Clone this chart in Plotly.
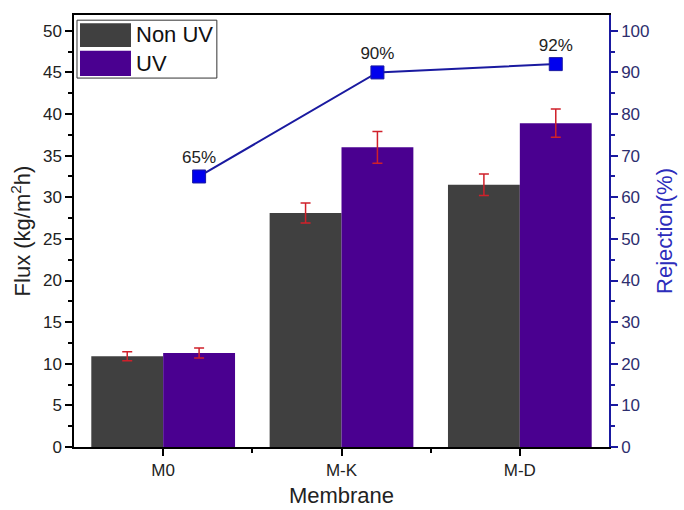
import plotly.graph_objects as go

# Membrane flux (bars) and rejection (line) data
membranes = ["M0", "M-K", "M-D"]
flux_non_uv = [10.9, 28.1, 31.5]
flux_non_uv_err = [0.55, 1.2, 1.3]
flux_uv = [11.3, 36.0, 38.9]
flux_uv_err = [0.6, 1.9, 1.7]
rejection = [65, 90, 92]
rejection_labels = ["65%", "90%", "92%"]

FONT = "Liberation Sans, Arial, sans-serif"
GRAY = "#404040"
PURPLE = "#4a0090"
NAVY = "#1a1aa0"
ERR = "#d0202a"

bar_w = 0.403
xpos = list(range(len(membranes)))
uv_centers = [x + bar_w / 2 for x in xpos]

fig = go.Figure()

fig.add_trace(go.Bar(
    name="Non UV", x=xpos, y=flux_non_uv, width=bar_w, offset=-bar_w,
    marker=dict(color=GRAY, line=dict(width=0)),
    error_y=dict(type="data", array=flux_non_uv_err, color=ERR, thickness=1.5, width=5),
    showlegend=False,
))
fig.add_trace(go.Bar(
    name="UV", x=xpos, y=flux_uv, width=bar_w, offset=0,
    marker=dict(color=PURPLE, line=dict(width=0)),
    error_y=dict(type="data", array=flux_uv_err, color=ERR, thickness=1.5, width=5),
    showlegend=False,
))
fig.add_trace(go.Scatter(
    name="Rejection", x=uv_centers, y=rejection, yaxis="y2",
    mode="lines+markers+text",
    line=dict(color=NAVY, width=2),
    marker=dict(symbol="square", size=13, color="#0000ee", line=dict(color=NAVY, width=1)),
    text=rejection_labels, textposition="top center",
    textfont=dict(family=FONT, size=17, color="#222222"),
    showlegend=False,
))

# Legend drawn as boxed swatches with labels
shapes = [
    dict(type="rect", xref="paper", yref="paper", x0=0.0056, x1=0.267, y0=0.854, y1=0.988,
         line=dict(color="#333333", width=1), fillcolor="white", layer="above"),
    dict(type="rect", xref="paper", yref="paper", x0=0.0112, x1=0.1065, y0=0.926, y1=0.981,
         line=dict(width=0), fillcolor=GRAY, layer="above"),
    dict(type="rect", xref="paper", yref="paper", x0=0.0112, x1=0.1065, y0=0.859, y1=0.917,
         line=dict(width=0), fillcolor=PURPLE, layer="above"),
]
annotations = [
    dict(xref="paper", yref="paper", x=0.113, y=0.954, text="Non UV", showarrow=False,
         xanchor="left", yanchor="middle", font=dict(family=FONT, size=22, color="#111111")),
    dict(xref="paper", yref="paper", x=0.113, y=0.888, text="UV", showarrow=False,
         xanchor="left", yanchor="middle", font=dict(family=FONT, size=22, color="#111111")),
]

fig.update_layout(
    width=684, height=510,
    margin=dict(l=74, r=75, t=15, b=63),
    paper_bgcolor="white", plot_bgcolor="white",
    font=dict(family=FONT, size=17, color="#222222"),
    barmode="overlay",
    shapes=shapes, annotations=annotations,
    xaxis=dict(
        range=[-0.5, 2.5], tickmode="array", tickvals=xpos, ticktext=membranes,
        showline=True, linecolor="black", linewidth=1.5, mirror=True,
        ticks="outside", ticklen=7, tickcolor="black", tickwidth=1.5,
        minor=dict(tickvals=[0.5, 1.5], ticks="outside", ticklen=4, tickcolor="black", tickwidth=1.5),
        showgrid=False, zeroline=False, automargin=False,
        title=dict(text="Membrane", font=dict(size=22, color="#222222"), standoff=8),
        tickfont=dict(size=17, color="#222222"),
    ),
    yaxis=dict(
        range=[0, 51.9], dtick=5, tick0=0,
        showline=True, linecolor="black", linewidth=1.5,
        ticks="outside", ticklen=7, tickcolor="black", tickwidth=1.5,
        minor=dict(dtick=2.5, ticks="outside", ticklen=4, tickcolor="black", tickwidth=1.5),
        showgrid=False, zeroline=False, automargin=False,
        title=dict(text="Flux (kg/m<sup>2</sup>h)", font=dict(size=22, color="#222222"), standoff=6),
        tickfont=dict(size=17, color="#222222"),
    ),
    yaxis2=dict(
        range=[0, 103.8], dtick=10, tick0=0, overlaying="y", side="right",
        showline=True, linecolor=NAVY, linewidth=1.5,
        ticks="outside", ticklen=7, tickcolor=NAVY, tickwidth=1.5,
        minor=dict(dtick=5, ticks="outside", ticklen=4, tickcolor=NAVY, tickwidth=1.5),
        showgrid=False, zeroline=False, automargin=False,
        title=dict(text="Rejection(%)", font=dict(size=22, color="#2d2dbb"), standoff=8),
        tickfont=dict(size=17, color="#2e2e6e"),
    ),
)

fig.write_html("out.html")
